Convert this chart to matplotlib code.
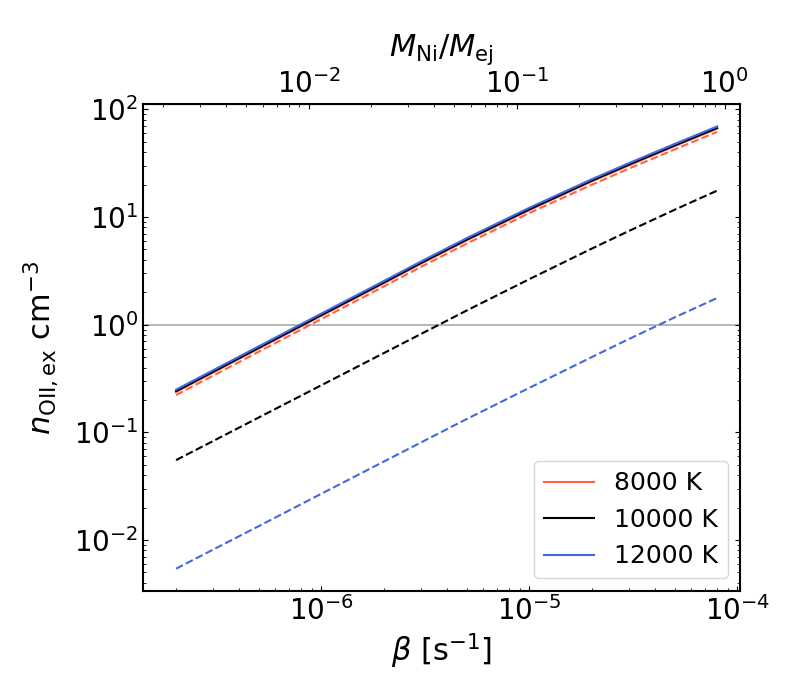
import matplotlib
matplotlib.use('Agg')
import matplotlib.pyplot as plt
import numpy as np

# beta grid [s^-1]
beta = [2e-7, 5e-7, 1e-6, 2e-6, 3e-6, 5e-6, 1e-5, 2e-5, 3e-5, 5e-5, 8e-5]

# total n_OII,ex (solid) for each temperature
n_8000 = [0.237, 0.601, 1.21, 2.43, 3.67, 6.08, 11.6, 21.5, 30.1, 45.6, 66.3]
n_10000 = [0.241, 0.610, 1.23, 2.47, 3.73, 6.17, 11.8, 21.8, 30.6, 46.3, 67.3]
n_12000 = [0.249, 0.630, 1.27, 2.55, 3.85, 6.37, 12.2, 22.5, 31.6, 47.8, 69.5]

# second component (dashed)
d_8000 = [0.222, 0.561, 1.13, 2.27, 3.43, 5.67, 10.9, 20.0, 28.1, 42.5, 61.9]
d_10000 = [0.0552, 0.1374, 0.274, 0.546, 0.817, 1.355, 2.65, 5.10, 7.40, 11.7, 17.6]
d_12000 = [0.00541, 0.01346, 0.0269, 0.0536, 0.0802, 0.133, 0.259, 0.501, 0.733, 1.17, 1.77]

temps = ['8000 K', '10000 K', '12000 K']
colors = ['tomato', 'black', 'royalblue']

# beta corresponding to M_Ni/M_ej = 1
beta_unit = 8.7e-5

fig = plt.figure(figsize=(8, 7), dpi=100)
ax = fig.add_axes([0.179, 0.156, 0.746, 0.695])

ax.axhline(1.0, color='darkgray', lw=1.2, zorder=0)

for sol, das, lab, c in zip([n_8000, n_10000, n_12000],
                            [d_8000, d_10000, d_12000], temps, colors):
    ax.plot(beta, sol, color=c, lw=1.5, label=lab)
    ax.plot(beta, das, color=c, lw=1.5, ls='--')

ax.set_xscale('log')
ax.set_yscale('log')
ax.set_xlim(1.39e-7, 1.03e-4)
ax.set_xlabel(r'$\beta$ [s$^{-1}$]', fontsize=22)
ax.set_ylabel(r'$n_{\rm OII,ex}$ cm$^{-3}$', fontsize=22, labelpad=10)
ax.tick_params(which='both', direction='in', right=True, labelsize=20)
for s in ax.spines.values():
    s.set_linewidth(1.5)

sec = ax.secondary_xaxis('top', functions=(lambda b: b / beta_unit,
                                           lambda m: m * beta_unit))
sec.set_xticks([1e-2, 1e-1, 1e0])
sec.set_xlabel(r'$M_{\rm Ni}/M_{\rm ej}$', fontsize=22, labelpad=10)
sec.tick_params(which='both', direction='in', labelsize=20)

ax.legend(loc='lower right', fontsize=18)

fig.savefig('out.png', dpi=100)
